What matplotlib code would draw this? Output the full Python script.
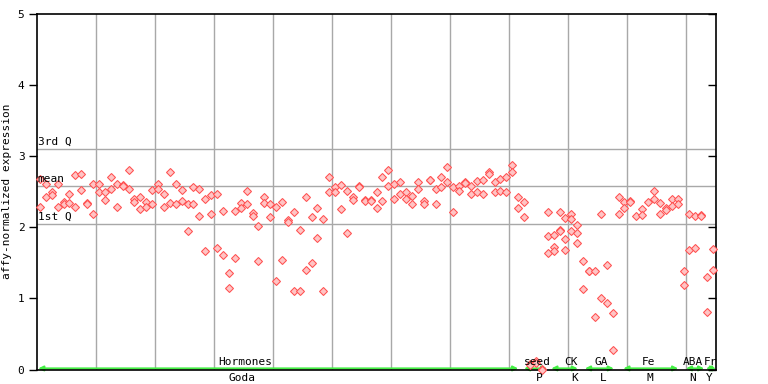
import matplotlib
matplotlib.use("Agg")
import matplotlib.pyplot as plt

# ---- data: one list of replicate values per sample (samples in order) ----
hormones_vals = [
    [2.68, 2.29], [2.61, 2.43], [2.50, 2.45], [2.60, 2.29], [2.35, 2.33],
    [2.46, 2.34], [2.73, 2.29], [2.75, 2.52], [2.34, 2.32], [2.61, 2.18],
    [2.60, 2.49], [2.49, 2.38], [2.71, 2.54], [2.60, 2.29], [2.59, 2.58],
    [2.81, 2.54], [2.39, 2.35], [2.43, 2.25], [2.35, 2.29], [2.52, 2.33],
    [2.60, 2.53], [2.47, 2.29], [2.77, 2.34], [2.60, 2.33], [2.52, 2.37],
    [2.32, 1.94], [2.57, 2.32], [2.54, 2.16], [2.39, 1.66], [2.45, 2.18],
    [2.47, 1.71], [2.23, 1.61], [1.36, 1.14], [2.23, 1.57], [2.34, 2.27],
    [2.51, 2.33], [2.20, 2.16], [2.01, 1.53], [2.43, 2.34], [2.33, 2.15],
    [2.29, 1.25], [2.36, 1.54], [2.10, 2.07], [2.21, 1.11], [1.96, 1.11],
    [2.43, 1.40], [2.15, 1.49], [2.27, 1.85], [2.11, 1.11], [2.70, 2.49],
    [2.57, 2.49], [2.59, 2.25], [2.51, 1.92], [2.43, 2.38], [2.58, 2.57],
    [2.38, 2.37], [2.38, 2.37], [2.50, 2.27], [2.71, 2.37], [2.81, 2.58],
    [2.60, 2.40], [2.63, 2.46], [2.49, 2.39], [2.44, 2.33], [2.64, 2.54],
    [2.37, 2.33], [2.67, 2.66], [2.53, 2.33], [2.71, 2.56], [2.85, 2.64],
    [2.56, 2.22], [2.58, 2.51], [2.64, 2.62], [2.58, 2.46], [2.65, 2.49],
    [2.66, 2.47], [2.78, 2.75], [2.63, 2.50], [2.68, 2.51], [2.70, 2.49],
    [2.87, 2.77], [2.42, 2.27], [2.36, 2.15],
]
seed_vals = [[0.08, 0.06], [0.12, 0.09], [0.01, 0.00]]
ck_vals = [[2.22, 1.87, 1.64], [1.89, 1.72, 1.67], [2.22, 1.96, 1.95],
           [2.13, 1.84, 1.68], [2.18, 2.12, 1.94], [2.03, 1.92, 1.78]]
ga_vals = [[1.52, 1.13], [1.39, 1.38], [1.39, 0.74], [2.18, 1.00],
           [1.47, 0.93], [0.80, 0.28]]
fe_vals = [[2.42, 2.19], [2.35, 2.27], [2.37, 2.36], [2.16], [2.25, 2.17],
           [2.36], [2.51, 2.40], [2.34, 2.18], [2.27, 2.24], [2.40, 2.30],
           [2.39, 2.32]]
aba_vals = [[1.38, 1.19], [2.19, 1.68], [2.16, 1.71], [2.17, 2.16]]
fr_vals = [[1.30, 0.81], [1.70, 1.40]]

# quartile reference lines
q3_value = 3.10
mean_value = 2.58
q1_value = 2.04

# category labels (top / bottom) with arrow spans in sample units
cat_top = ["Hormones", "seed", "CK", "GA", "Fe", "ABA", "Fr"]
cat_bottom = ["Goda", "P", "K", "L", "M", "N", "Y"]
cat_start = [0.2, 82.5, 87.1, 92.8, 99.3, 109.9, 113.3]
cat_end = [81.5, 86.4, 91.6, 97.7, 108.6, 113.0, 115.0]
top_label_x = [35.2, 84.7, 90.5, 95.5, 103.5, 111.1, 114.0]
bottom_label_x = [34.7, 85.0, 91.0, 95.9, 103.8, 111.0, 113.8]

y_ticks = [0, 1, 2, 3, 4, 5]

all_samples = hormones_vals + seed_vals + ck_vals + ga_vals + fe_vals + aba_vals + fr_vals

# ---- figure ----
mono = "DejaVu Sans Mono"
fig = plt.figure(figsize=(7.68, 3.84), dpi=100)
ax = fig.add_axes([37 / 768, 1 - 369.5 / 384, 679 / 768, (369.5 - 13.7) / 384])
ax.set_xlim(0, 115)
ax.set_ylim(0, 5)

# vertical grid
for gx in range(10, 115, 10):
    ax.axvline(gx, color="#a8a8a8", lw=1, zorder=1)

# quartile lines
for val, lab in [(q3_value, "3rd Q"), (mean_value, "mean"), (q1_value, "1st Q")]:
    ax.axhline(val, color="#a8a8a8", lw=1, zorder=1)
    ax.text(0.1, val + 0.03, lab, fontsize=8, family=mono, ha="left", va="bottom",
            color="black", zorder=4)

# points
xs, ys = [], []
for i, reps in enumerate(all_samples):
    for v in reps:
        xs.append(i + 0.5)
        ys.append(v)
ax.plot(xs, ys, linestyle="none", marker="D", markersize=3.8,
        markerfacecolor="#ffc4c4", markeredgecolor="#ff5050", markeredgewidth=0.75,
        zorder=3, clip_on=False)

# category arrows and labels
for s, e in zip(cat_start, cat_end):
    ax.annotate("", xy=(e, 0.015), xytext=(s, 0.015),
                arrowprops=dict(arrowstyle="<|-|>", color="#44ee44", lw=1.5,
                                mutation_scale=7, shrinkA=0, shrinkB=0),
                annotation_clip=False, zorder=2)
for lx, lab in zip(top_label_x, cat_top):
    ax.text(lx, 0.04, lab, fontsize=8, family=mono, ha="center", va="bottom", zorder=4)
for lx, lab in zip(bottom_label_x, cat_bottom):
    ax.text(lx, -0.05, lab, fontsize=8, family=mono, ha="center", va="top",
            clip_on=False)

# axes styling
for sp in ax.spines.values():
    sp.set_color("black")
    sp.set_linewidth(1.2)
ax.set_xticks([])
ax.set_yticks(y_ticks)
ax.set_yticklabels([str(t) for t in y_ticks], family=mono, fontsize=8)
ax.tick_params(axis="y", direction="out", length=6, width=1, pad=3)
ax2 = ax.twinx()
ax2.set_ylim(0, 5)
ax2.set_yticks(y_ticks)
ax2.set_yticklabels([])
ax2.tick_params(axis="y", direction="in", length=6, width=1)
for sp in ax2.spines.values():
    sp.set_visible(False)

ax.set_ylabel("affy-normalized expression", family=mono, fontsize=8)
ax.yaxis.set_label_coords(-0.037, 0.5)

fig.savefig("out.png", dpi=100)
